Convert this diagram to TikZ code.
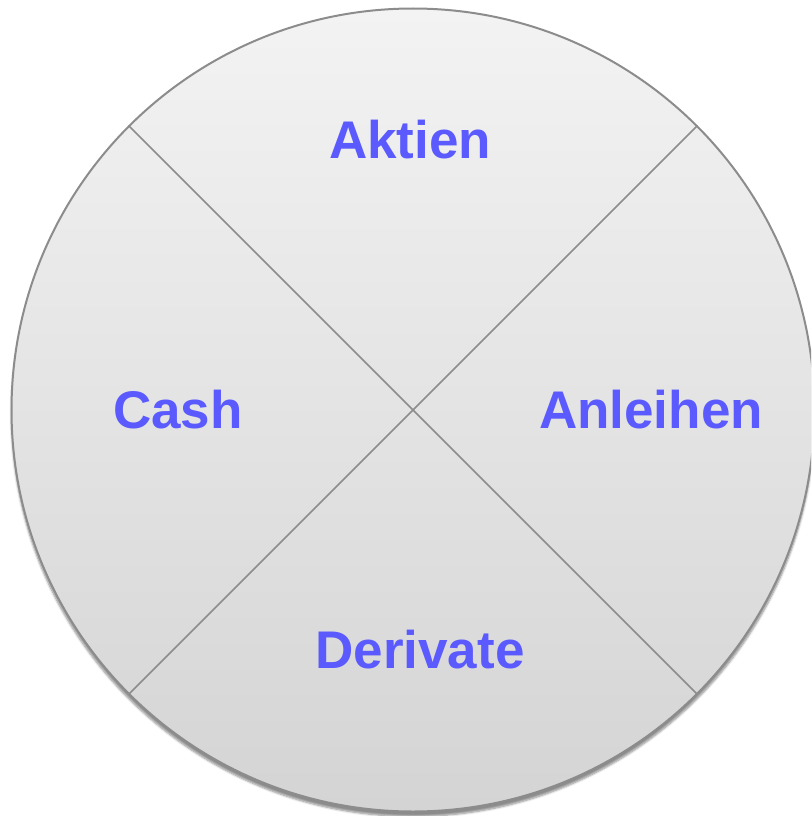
\documentclass[tikz,border=0pt]{standalone}
\usepackage{fontspec}
\setmainfont{Liberation Sans}
\usetikzlibrary{shadows.blur}
\definecolor{labelblue}{RGB}{90,90,255}
\definecolor{rimgray}{RGB}{140,140,140}
\tikzset{
	pielabel/.style={text=labelblue, font=\bfseries\fontsize{53}{60}\selectfont, anchor=base},
	divider/.style={draw=rimgray, line width=1.6pt}
}
\begin{document}
\begin{tikzpicture}[x=1pt, y=-1pt]
	\useasboundingbox (0,0) rectangle (811,816);
	\clip (0,0) rectangle (811,816);
	% the disc
	\node[circle, minimum size=803pt, inner sep=0pt, draw=rimgray, line width=2pt,
		top color={rgb,255:red,243;green,243;blue,243}, bottom color={rgb,255:red,212;green,212;blue,212},
		blur shadow={shadow xshift=0pt, shadow yshift=-5pt, shadow blur steps=6, shadow opacity=45}] (pie) at (413,410) {};
	\draw[divider] (pie.135) -- (pie.-45);
	\draw[divider] (pie.45) -- (pie.-135);
	% the four parts
	\node[pielabel] (aktien) at (410,158) {Aktien};
	\node[pielabel] (cash) at (178,428) {Cash};
	\node[pielabel] (anleihen) at (651,428) {Anleihen};
	\node[pielabel] (derivate) at (420,668) {Derivate};
\end{tikzpicture}
\end{document}
